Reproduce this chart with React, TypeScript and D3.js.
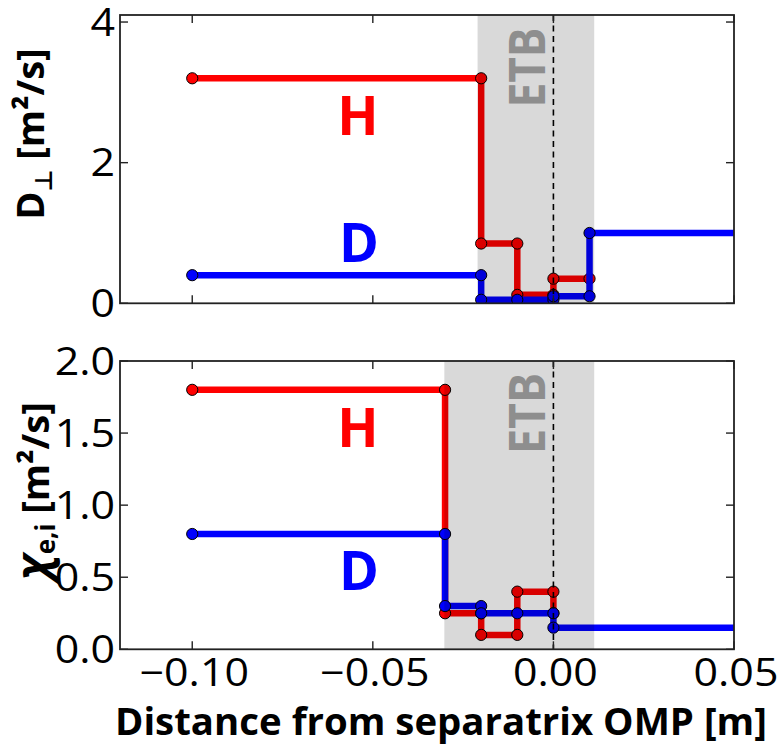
import React from "react";
import * as d3 from "d3";

// ---- Data ----
const xTicks = [-0.1, -0.05, 0, 0.05];
const xTickLabels = ["\u22120.10", "\u22120.05", "0.00", "0.05"];
const topYTicks = [0, 2, 4];
const topYTickLabels = ["0", "2", "4"];
const botYTicks = [0, 0.5, 1.0, 1.5, 2.0];
const botYTickLabels = ["0.0", "0.5", "1.0", "1.5", "2.0"];

// Top panel (D_perp)
const topHx = [-0.1, -0.02, -0.02, -0.01, -0.01, 0, 0, 0.01];
const topHy = [3.2, 3.2, 0.85, 0.85, 0.12, 0.12, 0.35, 0.35];
const topDx = [-0.1, -0.02, -0.02, -0.01, 0, 0, 0.01, 0.01];
const topDy = [0.4, 0.4, 0.05, 0.05, 0.05, 0.1, 0.1, 1.0];
const topDTailX = [0.01, 0.06];
const topDTailY = [1.0, 1.0];

// Bottom panel (chi_e,i)
const botHx = [-0.1, -0.03, -0.03, -0.02, -0.02, -0.01, -0.01, 0, 0];
const botHy = [1.8, 1.8, 0.25, 0.25, 0.1, 0.1, 0.4, 0.4, 0.25];
const botDx = [-0.1, -0.03, -0.03, -0.02, -0.02, -0.01, 0, 0];
const botDy = [0.8, 0.8, 0.3, 0.3, 0.25, 0.25, 0.25, 0.15];
const botDTailX = [0, 0.06];
const botDTailY = [0.15, 0.15];

const topETB = [-0.021, 0.0113];
const botETB = [-0.0302, 0.0113];

const FONT = "'Open Sans', 'DejaVu Sans', sans-serif";
const RED = "#ff0000";
const BLUE = "#0000ff";

const X0 = 120, X1 = 734;
const x = d3.scaleLinear().domain([-0.12, 0.05]).range([X0, X1]);
const yTop = d3.scaleLinear().domain([0, 4.1]).range([303.3, 15]);
const yBot = d3.scaleLinear().domain([0, 2]).range([649.3, 361]);

type Scale = d3.ScaleLinear<number, number>;

function zip(xs: number[], ys: number[]): [number, number][] {
  return xs.map((v, i) => [v, ys[i]]);
}

function Series({ xs, ys, tx, ty, color, y, id }: { xs: number[]; ys: number[]; tx?: number[]; ty?: number[]; color: string; y: Scale; id: string }) {
  const line = d3.line<[number, number]>().x((d) => x(d[0])).y((d) => y(d[1]));
  return (
    <g>
      <path d={line(zip(xs, ys)) || ""} fill="none" stroke={color} strokeWidth={6.5} strokeLinejoin="miter" />
      {tx && ty && <path d={line(zip(tx, ty)) || ""} fill="none" stroke={color} strokeWidth={6.5} />}
      {xs.map((v, i) => (
        <circle key={id + i} cx={x(v)} cy={y(ys[i])} r={5.6} fill={color} stroke="#000" strokeWidth={1} />
      ))}
    </g>
  );
}

const TICK_FS = 38;
const TICK_SX = 1.13;

function Panel({ y, yTicks, yLabels, showX, etb, clipId, children }: any) {
  const [r0, r1] = y.range();
  const top = r1, bot = r0;
  const tl = 8;
  return (
    <g>
      <defs>
        <clipPath id={clipId}>
          <rect x={X0} y={top} width={X1 - X0} height={bot - top} />
        </clipPath>
      </defs>
      <g clipPath={`url(#${clipId})`}>
        {children}
        <rect x={x(etb[0])} y={top} width={x(etb[1]) - x(etb[0])} height={bot - top} fill="#000" fillOpacity={0.15} />
        <line x1={x(0)} x2={x(0)} y1={top} y2={bot} stroke="#000" strokeWidth={1.6} strokeDasharray="6,4.5" />
      </g>
      {xTicks.map((t, i) => (
        <g key={"xt" + i}>
          <line x1={x(t)} x2={x(t)} y1={bot} y2={bot - tl} stroke="#222" strokeWidth={1.4} />
          <line x1={x(t)} x2={x(t)} y1={top} y2={top + tl} stroke="#222" strokeWidth={1.4} />
          {showX && (
            <text transform={`translate(${x(t) + 2},${bot + 37}) scale(${TICK_SX},1)`} textAnchor="middle" fontFamily={FONT} fontSize={TICK_FS} fill="#000">
              {xTickLabels[i]}
            </text>
          )}
        </g>
      ))}
      {yTicks.map((t: number, i: number) => (
        <g key={"yt" + i}>
          <line x1={X0} x2={X0 + tl} y1={y(t)} y2={y(t)} stroke="#222" strokeWidth={1.4} />
          <line x1={X1} x2={X1 - tl} y1={y(t)} y2={y(t)} stroke="#222" strokeWidth={1.4} />
          <text transform={`translate(${X0 - 5},${y(t) + 13.5}) scale(${TICK_SX},1)`} textAnchor="end" fontFamily={FONT} fontSize={TICK_FS} fill="#000">
            {yLabels[i]}
          </text>
        </g>
      ))}
      <rect x={X0} y={top} width={X1 - X0} height={bot - top} fill="none" stroke="#222" strokeWidth={1.8} />
    </g>
  );
}

export default function App() {
  return (
    <svg width={779} height={747} style={{ display: "block", background: "#fff", position: "absolute", left: 0, top: 0 }}>
      <Panel y={yTop} yTicks={topYTicks} yLabels={topYTickLabels} showX={false} etb={topETB} clipId="c1">
        <Series xs={topHx} ys={topHy} color={RED} y={yTop} id="th" />
        <Series xs={topDx} ys={topDy} tx={topDTailX} ty={topDTailY} color={BLUE} y={yTop} id="td" />
      </Panel>
      <Panel y={yBot} yTicks={botYTicks} yLabels={botYTickLabels} showX={true} etb={botETB} clipId="c2">
        <Series xs={botHx} ys={botHy} color={RED} y={yBot} id="bh" />
        <Series xs={botDx} ys={botDy} tx={botDTailX} ty={botDTailY} color={BLUE} y={yBot} id="bd" />
      </Panel>

      {/* ETB labels */}
      <text transform="translate(545,67.5) rotate(-90)" textAnchor="middle" fontFamily={FONT} fontWeight="bold" fontSize={51} fill="#8e8e8e" textLength={80} lengthAdjust="spacingAndGlyphs">ETB</text>
      <text transform="translate(545,413.5) rotate(-90)" textAnchor="middle" fontFamily={FONT} fontWeight="bold" fontSize={51} fill="#8e8e8e" textLength={81} lengthAdjust="spacingAndGlyphs">ETB</text>

      {/* H / D labels */}
      <text x={358} y={135} textAnchor="middle" fontFamily={FONT} fontWeight="bold" fontSize={54} fill={RED}>H</text>
      <text x={359} y={261.5} textAnchor="middle" fontFamily={FONT} fontWeight="bold" fontSize={54} fill={BLUE}>D</text>
      <text x={358} y={447} textAnchor="middle" fontFamily={FONT} fontWeight="bold" fontSize={54} fill={RED}>H</text>
      <text x={359} y={590} textAnchor="middle" fontFamily={FONT} fontWeight="bold" fontSize={54} fill={BLUE}>D</text>

      {/* Y labels */}
      <text transform="translate(44,134) rotate(-90)" textAnchor="middle" fontFamily={FONT} fontWeight="bold" fontSize={38} fill="#000">
        D<tspan fontSize={24} dy={8}>⊥</tspan><tspan dy={-8}> [m²/s]</tspan>
      </text>
      <text transform="translate(49,491) rotate(-90)" textAnchor="middle" fontFamily={FONT} fontWeight="bold" fontSize={38} fill="#000">
        <tspan fontStyle="italic" fontSize={46}>χ</tspan><tspan fontSize={26} dy={6}>e,i</tspan><tspan dy={-6}> [m²/s]</tspan>
      </text>

      {/* X label */}
      <text x={441} y={735} textAnchor="middle" fontFamily={FONT} fontWeight="bold" fontSize={38} fill="#000" textLength={652} lengthAdjust="spacingAndGlyphs">
        Distance from separatrix OMP [m]
      </text>
    </svg>
  );
}
